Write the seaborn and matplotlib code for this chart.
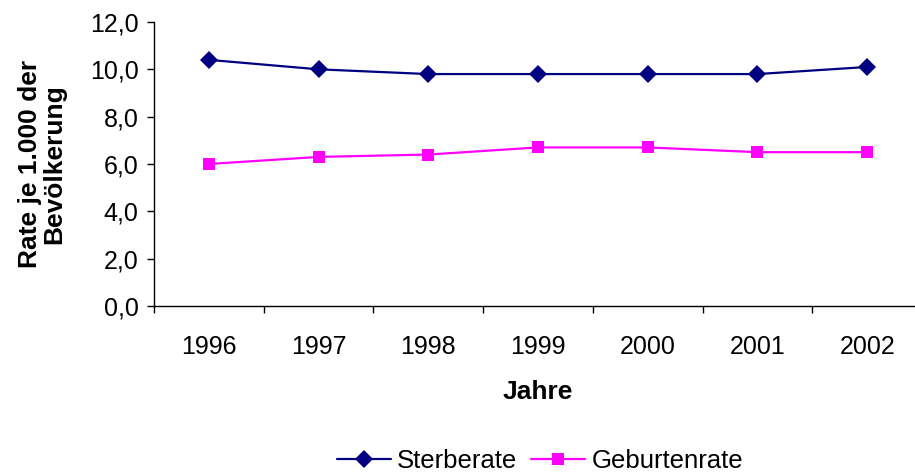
import matplotlib
matplotlib.use('Agg')
import matplotlib.pyplot as plt
import seaborn as sns
import pandas as pd
import numpy as np
from matplotlib.lines import Line2D

# Data
years = ['1996', '1997', '1998', '1999', '2000', '2001', '2002']
sterberate = [10.4, 10.0, 9.8, 9.8, 9.8, 9.8, 10.1]
geburtenrate = [6.0, 6.3, 6.4, 6.7, 6.7, 6.5, 6.5]
series_names = ['Sterberate', 'Geburtenrate']
y_ticks = [0, 2, 4, 6, 8, 10, 12]

sns.set_style('white')
plt.rcParams['font.family'] = ['Liberation Sans', 'DejaVu Sans']
plt.rcParams['text.color'] = 'black'
plt.rcParams['axes.labelcolor'] = 'black'
plt.rcParams['xtick.color'] = 'black'
plt.rcParams['ytick.color'] = 'black'

df = pd.DataFrame({
    'pos': list(range(len(years))) * 2,
    'rate': sterberate + geburtenrate,
    'serie': [series_names[0]] * len(years) + [series_names[1]] * len(years),
})

fig = plt.figure(figsize=(9.15, 4.72), dpi=100)
ax = fig.add_axes([154 / 915, 1 - 306 / 472, 768 / 915, 284 / 472])

sns.lineplot(
    data=df, x='pos', y='rate', hue='serie', style='serie',
    palette={'Sterberate': '#000080', 'Geburtenrate': '#FF00FF'},
    markers={'Sterberate': 'D', 'Geburtenrate': 's'},
    dashes=False, markersize=9, linewidth=1.6, markeredgewidth=0,
    legend=False, ax=ax,
)

ax.set_xlim(-0.5, len(years) - 0.5)
ax.set_ylim(0, 12)

# category boundaries as major ticks, labels on minor ticks
ax.set_xticks(np.arange(len(years) + 1) - 0.5)
ax.set_xticklabels([])
ax.set_xticks(range(len(years)), minor=True)
ax.set_xticklabels(years, minor=True)
ax.tick_params(axis='x', which='major', direction='out', length=5, width=1, bottom=True)
ax.tick_params(axis='x', which='minor', length=0, pad=21, labelsize=18, bottom=True)

ax.set_yticks(y_ticks)
ax.set_yticklabels([f'{v:.1f}'.replace('.', ',') for v in y_ticks])
ax.tick_params(axis='y', direction='out', length=5, width=1, pad=6, labelsize=18, left=True)

for side in ['top', 'right']:
    ax.spines[side].set_visible(False)
for side in ['left', 'bottom']:
    ax.spines[side].set_color('black')
    ax.spines[side].set_linewidth(1)

ax.set_xlabel('Jahre', fontsize=19, fontweight='bold', labelpad=15)
ax.set_ylabel('Rate je 1.000 der\nBevölkerung', fontsize=19, fontweight='bold',
              multialignment='center', va='center', linespacing=1.0)
ax.yaxis.set_label_coords((42 - 154) / 768, 0.5)

handles = [
    Line2D([0], [0], color='#000080', marker='D', markersize=9, markeredgewidth=0, linewidth=1.6),
    Line2D([0], [0], color='#FF00FF', marker='s', markersize=9, markeredgewidth=0, linewidth=1.6),
]
fig.legend(handles, series_names, loc='center', bbox_to_anchor=(540 / 915, 1 - 461 / 472),
           ncol=2, frameon=False, fontsize=18.5, handlelength=2.1, handletextpad=0.25,
           columnspacing=0.55)

fig.savefig('out.png', dpi=100)
